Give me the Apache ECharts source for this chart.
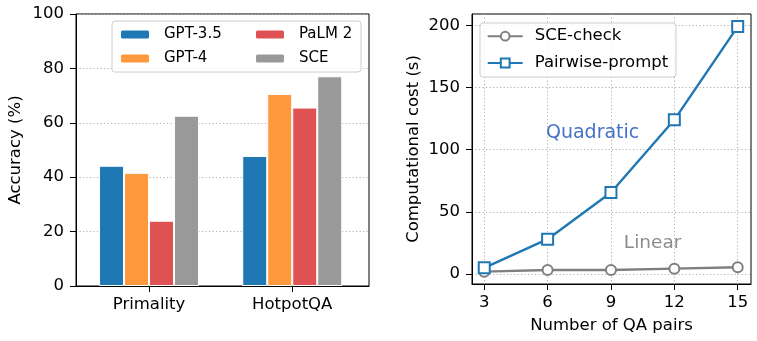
<!DOCTYPE html>
<html lang="en">
<head>
    <meta charset="UTF-8">
    <title>Accuracy and computational cost</title>
    <script src="https://cdn.jsdelivr.net/npm/echarts@6/dist/echarts.min.js"></script>
    <style>
        html, body { margin: 0; padding: 0; background: #fff; }
        #main { width: 757px; height: 341px; }
    </style>
</head>
<body>
    <div id="main"></div>
    <script>
        // left panel: accuracy per dataset
        var datasets = ['Primality', 'HotpotQA'];
        var gpt35 = [44.2, 47.8];
        var gpt4 = [41.6, 70.6];
        var palm2 = [24.0, 65.6];
        var sce = [62.6, 77.1];
        var accTicks = [0, 20, 40, 60, 80, 100];

        // right panel: cost vs number of QA pairs
        var qaPairs = [3, 6, 9, 12, 15];
        var sceCheck = [1.9, 3.2, 3.2, 4.3, 5.4];
        var pairwise = [5.0, 28.0, 65.5, 124.0, 199.0];
        var costTicks = [0, 50, 100, 150, 200];

        // text notes, in data coordinates of the right panel
        var notes = [
            { text: 'Quadratic', x: 8.13, y: 113, color: '#4472c4', size: 19 },
            { text: 'Linear', x: 10.97, y: 24.7, color: '#8c8c8c', size: 18.5 }
        ];

        var font = 'DejaVu Sans';
        var dotted = { color: '#b0b0b0', width: 1, type: [1.2, 2.3] };
        var blackLine = { show: true, onZero: false, lineStyle: { color: '#000', width: 1 } };

        function pairs(arr) {
            return arr.map(function (v, i) { return [i, v]; });
        }

        function barSeries(name, arr, color) {
            return {
                name: name,
                type: 'bar',
                xAxisIndex: 0,
                yAxisIndex: 0,
                barWidth: 25,
                barGap: '0%',
                itemStyle: { color: color, borderColor: '#fff', borderWidth: 1 },
                data: pairs(arr)
            };
        }

        var myChart = echarts.init(document.getElementById('main'));

        var option = {
            animation: false,
            textStyle: { fontFamily: font },
            grid: [
                { left: 76, top: 14, width: 293, height: 272, show: true, borderColor: '#000', borderWidth: 1, backgroundColor: 'transparent' },
                { left: 472, top: 14, width: 279, height: 270, show: true, borderColor: '#000', borderWidth: 1, backgroundColor: 'transparent' }
            ],
            xAxis: [
                {
                    gridIndex: 0,
                    type: 'value',
                    min: -0.51,
                    max: 1.536,
                    axisLine: blackLine,
                    axisTick: { show: true, length: 6, customValues: [0, 1], lineStyle: { color: '#000' } },
                    axisLabel: {
                        customValues: [0, 1], margin: 10, color: '#000', fontSize: 16.5, fontFamily: font,
                        formatter: function (v) { return datasets[Math.round(v)]; }
                    },
                    splitLine: { show: false }
                },
                {
                    gridIndex: 1,
                    type: 'value',
                    min: 2.42,
                    max: 15.63,
                    name: 'Number of QA pairs',
                    nameLocation: 'middle',
                    nameGap: 33,
                    nameTextStyle: { color: '#000', fontSize: 16.5, fontFamily: font },
                    axisLine: blackLine,
                    axisTick: { show: true, length: 6, customValues: qaPairs, lineStyle: { color: '#000' } },
                    axisLabel: { customValues: qaPairs, margin: 10, color: '#000', fontSize: 16.5, fontFamily: font },
                    splitLine: { show: true, lineStyle: dotted }
                }
            ],
            yAxis: [
                {
                    gridIndex: 0,
                    type: 'value',
                    min: 0,
                    max: 100,
                    interval: 20,
                    name: 'Accuracy (%)',
                    nameLocation: 'middle',
                    nameGap: 52,
                    nameTextStyle: { color: '#000', fontSize: 16.5, fontFamily: font },
                    axisLine: blackLine,
                    axisTick: { show: true, length: 6, lineStyle: { color: '#000' } },
                    axisLabel: {
                        margin: 12, color: '#000', fontSize: 16.5, fontFamily: font,
                        formatter: function (v) { return accTicks.indexOf(v) >= 0 ? String(v) : ''; }
                    },
                    splitLine: { show: true, lineStyle: dotted }
                },
                {
                    gridIndex: 1,
                    type: 'value',
                    min: -8.04,
                    max: 209.1,
                    name: 'Computational cost (s)',
                    nameLocation: 'middle',
                    nameGap: 50,
                    nameTextStyle: { color: '#000', fontSize: 16.5, fontFamily: font },
                    axisLine: blackLine,
                    axisTick: { show: true, length: 6, customValues: costTicks, lineStyle: { color: '#000' } },
                    axisLabel: { customValues: costTicks, margin: 12, color: '#000', fontSize: 16.5, fontFamily: font },
                    splitLine: { show: true, lineStyle: dotted }
                }
            ],
            legend: [
                {
                    data: ['GPT-3.5', 'GPT-4'],
                    orient: 'vertical',
                    left: 119, top: 27, padding: 0,
                    itemWidth: 30, itemHeight: 10, itemGap: 9,
                    textStyle: { fontSize: 15, color: '#000', fontFamily: font, padding: [0, 0, 0, 9] },
                    z: 10
                },
                {
                    data: ['PaLM 2', 'SCE'],
                    orient: 'vertical',
                    left: 254, top: 27, padding: 0,
                    itemWidth: 30, itemHeight: 10, itemGap: 9,
                    textStyle: { fontSize: 15, color: '#000', fontFamily: font, padding: [0, 0, 0, 9] },
                    z: 10
                },
                {
                    data: ['SCE-check', 'Pairwise-prompt'],
                    orient: 'vertical',
                    left: 486.7, top: 27.7, padding: 0,
                    itemWidth: 35, itemHeight: 11, itemGap: 9.8,
                    textStyle: { fontSize: 16.5, color: '#000', fontFamily: font, padding: [0, 0, 0, 7] },
                    z: 10
                }
            ],
            graphic: [
                { type: 'rect', z: 5, shape: { x: 112, y: 21, width: 249, height: 51, r: 3 }, style: { fill: 'rgba(255,255,255,0.8)', stroke: '#cccccc', lineWidth: 1 } },
                { type: 'rect', z: 5, shape: { x: 480, y: 23, width: 196, height: 54, r: 3 }, style: { fill: 'rgba(255,255,255,0.8)', stroke: '#cccccc', lineWidth: 1 } }
            ],
            series: [
                barSeries('GPT-3.5', gpt35, '#1f77b4'),
                barSeries('GPT-4', gpt4, '#ff993e'),
                barSeries('PaLM 2', palm2, '#de5253'),
                barSeries('SCE', sce, '#999999'),
                {
                    name: 'SCE-check',
                    type: 'line',
                    xAxisIndex: 1,
                    yAxisIndex: 1,
                    symbol: 'emptyCircle',
                    symbolSize: 10,
                    color: '#7f7f7f',
                    lineStyle: { color: '#7f7f7f', width: 2.4 },
                    itemStyle: { color: '#7f7f7f', borderWidth: 1.8 },
                    data: qaPairs.map(function (x, i) { return [x, sceCheck[i]]; })
                },
                {
                    name: 'Pairwise-prompt',
                    type: 'line',
                    xAxisIndex: 1,
                    yAxisIndex: 1,
                    symbol: 'emptyRect',
                    symbolSize: 11,
                    color: '#1f77b4',
                    lineStyle: { color: '#1f77b4', width: 2.4 },
                    itemStyle: { color: '#1f77b4', borderWidth: 1.8 },
                    data: qaPairs.map(function (x, i) { return [x, pairwise[i]]; })
                }
            ]
        };

        myChart.setOption(option);

        // place the text notes through the right panel's axes
        var noteGraphics = notes.map(function (n) {
            var p = myChart.convertToPixel({ gridIndex: 1 }, [n.x, n.y]);
            return {
                type: 'text', z: 6, x: p[0], y: p[1],
                style: { text: n.text, fill: n.color, fontSize: n.size, fontFamily: font, textAlign: 'center', textVerticalAlign: 'middle' }
            };
        });
        myChart.setOption({ graphic: option.graphic.concat(noteGraphics) });
    </script>
</body>
</html>
